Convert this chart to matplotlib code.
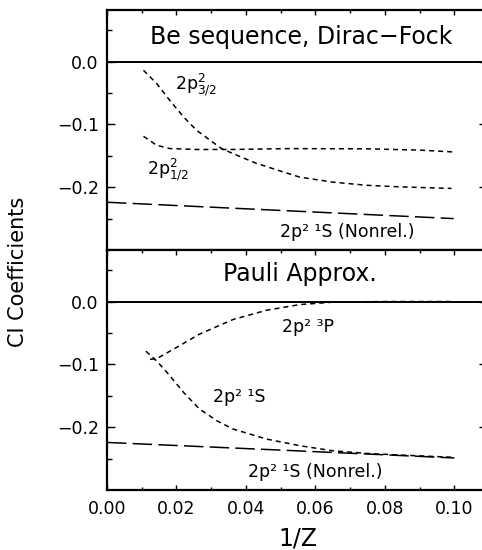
import matplotlib
matplotlib.use("Agg")
import matplotlib.pyplot as plt
from matplotlib.ticker import FixedLocator, FuncFormatter, FormatStrFormatter, MultipleLocator

plt.rcParams['font.family'] = ['DejaVu Sans']
plt.rcParams['mathtext.default'] = 'regular'
plt.rcParams['lines.scale_dashes'] = False

# ---- Data ----
# Top panel: Be sequence, Dirac-Fock
x_p32 = [0.0105, 0.0143, 0.0181, 0.0220, 0.0258, 0.0296, 0.0330, 0.0373, 0.0430, 0.0507,
         0.0555, 0.0651, 0.0747, 0.0843, 0.0992]
y_p32 = [-0.014, -0.035, -0.062, -0.088, -0.1095, -0.125, -0.1386, -0.149, -0.162, -0.1757,
         -0.184, -0.192, -0.197, -0.1995, -0.202]

x_p12 = [0.0105, 0.0143, 0.0181, 0.0258, 0.0354, 0.0527, 0.0750, 0.0900, 0.0999]
y_p12 = [-0.119, -0.1333, -0.1386, -0.140, -0.140, -0.1386, -0.139, -0.141, -0.144]

x_nonrel_top = [0.0, 0.0268, 0.0998]
y_nonrel_top = [-0.224, -0.231, -0.250]

# Bottom panel: Pauli approx.
x_3p = [0.0124, 0.0143, 0.0199, 0.0266, 0.0363, 0.0460, 0.0556, 0.0650, 0.0800, 0.1000]
y_3p = [-0.092, -0.091, -0.0735, -0.052, -0.0286, -0.0138, -0.0048, -0.001, 0.0, 0.0]

x_1s = [0.0112, 0.0143, 0.0173, 0.0221, 0.0266, 0.0317, 0.0363, 0.0460, 0.0556, 0.0650,
        0.0749, 0.0845, 0.0999]
y_1s = [-0.079, -0.0947, -0.113, -0.145, -0.171, -0.190, -0.203, -0.219, -0.2296, -0.2376,
        -0.2418, -0.2444, -0.248]

x_nonrel_bot = [0.0, 0.05, 0.1]
y_nonrel_bot = [-0.2243, -0.2365, -0.249]

xticks = [0.00, 0.02, 0.04, 0.06, 0.08, 0.10]
yticks = [-0.2, -0.1, 0.0]

short = (0, (3.6, 2.9))
long_ = (0, (14, 4.5))
lw = 1.1


def yfmt(v, pos):
    s = '%.1f' % abs(v)
    return ('\u2212' + s) if v < -1e-9 else s


fig = plt.figure(figsize=(4.82, 5.5), dpi=100)
L = 107 / 482
R = 487 / 482
ax1 = fig.add_axes([L, 1 - 250 / 550, R - L, 240 / 550])
ax2 = fig.add_axes([L, 1 - 490 / 550, R - L, 240 / 550])

for ax in (ax1, ax2):
    ax.set_xlim(0, 0.1094)
    ax.set_ylim(-0.3, 0.082)
    ax.axhline(0.0, color='black', lw=1.4)
    for s in ax.spines.values():
        s.set_linewidth(1.6)
    ax.yaxis.set_major_locator(FixedLocator(yticks))
    ax.yaxis.set_minor_locator(FixedLocator([-0.25, -0.15, -0.05, 0.05]))
    ax.yaxis.set_major_formatter(FuncFormatter(yfmt))
    ax.xaxis.set_major_locator(FixedLocator(xticks))
    ax.xaxis.set_minor_locator(MultipleLocator(0.01))
    ax.tick_params(axis='y', which='major', direction='in', length=5.8, width=1.0,
                   left=True, right=True, labelsize=12.5, pad=6)
    ax.tick_params(axis='y', which='minor', direction='in', length=3.6, width=1.0,
                   left=True, right=True)
    ax.tick_params(axis='x', which='major', direction='in', length=3.6, width=1.0,
                   top=True, labelsize=12.5, pad=7)
    ax.tick_params(axis='x', which='minor', direction='in', length=2.2, width=1.0,
                   top=True)

ax1.tick_params(axis='x', which='both', bottom=False, labelbottom=False)

# top panel curves
ax1.plot(x_p32, y_p32, color='black', lw=lw, linestyle=short)
ax1.plot(x_p12, y_p12, color='black', lw=lw, linestyle=short)
ax1.plot(x_nonrel_top, y_nonrel_top, color='black', lw=lw, linestyle=long_)

ax1.text(0.0560, 0.0286, 'Be sequence, Dirac\u2212Fock', ha='center', va='baseline', fontsize=17)
ax1.text(0.0197, -0.044, r'2p$^{2}_{3/2}$', ha='left', va='baseline', fontsize=12.5)
ax1.text(0.0114, -0.180, r'2p$^{2}_{1/2}$', ha='left', va='baseline', fontsize=12.5)
ax1.text(0.0498, -0.279, '2p\u00b2 \u00b9S (Nonrel.)', ha='left', va='baseline', fontsize=12.5)

# bottom panel curves
ax2.plot(x_3p, y_3p, color='black', lw=lw, linestyle=short)
ax2.plot(x_1s, y_1s, color='black', lw=lw, linestyle=short)
ax2.plot(x_nonrel_bot, y_nonrel_bot, color='black', lw=lw, linestyle=long_)

ax2.text(0.0555, 0.032, 'Pauli Approx.', ha='center', va='baseline', fontsize=17)
ax2.text(0.0504, -0.049, '2p\u00b2 \u00b3P', ha='left', va='baseline', fontsize=12.5)
ax2.text(0.0305, -0.160, '2p\u00b2 \u00b9S', ha='left', va='baseline', fontsize=12.5)
ax2.text(0.0406, -0.279, '2p\u00b2 \u00b9S (Nonrel.)', ha='left', va='baseline', fontsize=12.5)

ax2.xaxis.set_major_formatter(FormatStrFormatter('%.2f'))
fig.text(298 / 482, 1 - 539 / 550, '1/Z', ha='center', va='center', fontsize=17)
fig.text(18 / 482, 0.5 + 3 / 550, 'CI Coefficients', rotation=90,
         ha='center', va='center', fontsize=15)

fig.savefig('out.png', dpi=100)
